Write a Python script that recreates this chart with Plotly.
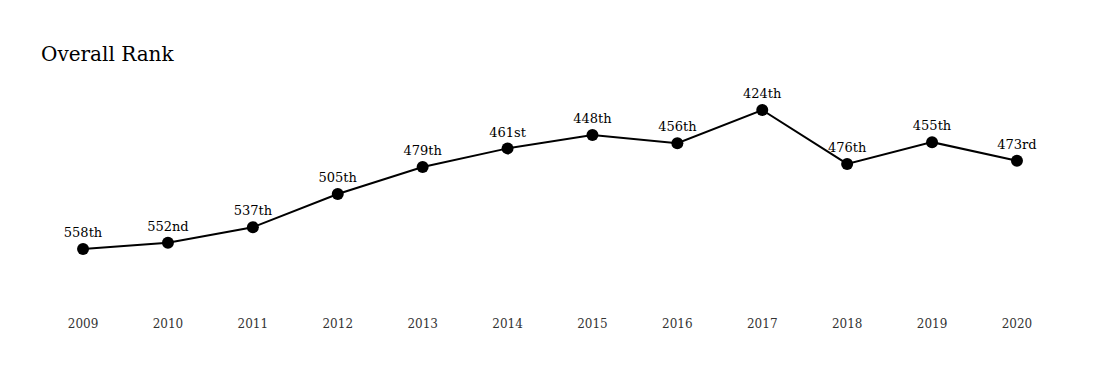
import plotly.graph_objects as go

years = [2009, 2010, 2011, 2012, 2013, 2014, 2015, 2016, 2017, 2018, 2019, 2020]
ranks = [558, 552, 537, 505, 479, 461, 448, 456, 424, 476, 455, 473]
rank_labels = ["558th", "552nd", "537th", "505th", "479th", "461st", "448th",
               "456th", "424th", "476th", "455th", "473rd"]
tick_labels = [str(y) for y in years]
title_text = "Overall Rank"

FONT = "Roboto Slab, DejaVu Serif, serif"

fig = go.Figure()
fig.add_trace(go.Scatter(
    x=years, y=ranks, mode="lines+markers+text",
    line=dict(color="#000000", width=2),
    marker=dict(color="#000000", size=12),
    text=rank_labels, textposition="top center",
    textfont=dict(family=FONT, size=13, color="#000000"),
    hoverinfo="skip", showlegend=False,
))

# page has an 8px body margin; figure is sized to fit the window
W, H = 1091, 362
L, R, T, B = 32, 39, 72, 70
fig.update_layout(
    width=W, height=H,
    margin=dict(l=L, r=R, t=T, b=B),
    paper_bgcolor="white", plot_bgcolor="white",
    title=dict(text=title_text, x=33 / W, xanchor="left", xref="container",
               y=1 - 46 / H, yanchor="middle", yref="container",
               font=dict(family=FONT, size=20, color="#000000")),
    xaxis=dict(range=[2009 - 0.507, 2020 + 0.507], tickmode="array",
               tickvals=years, ticktext=tick_labels, showgrid=False,
               zeroline=False, showline=False, ticks="",
               ticklabelstandoff=15,
               tickfont=dict(family=FONT, size=12, color="#333333")),
    yaxis=dict(range=[607.2, 395.07], visible=False, showgrid=False,
               zeroline=False),
)
fig.write_html("out.html")
